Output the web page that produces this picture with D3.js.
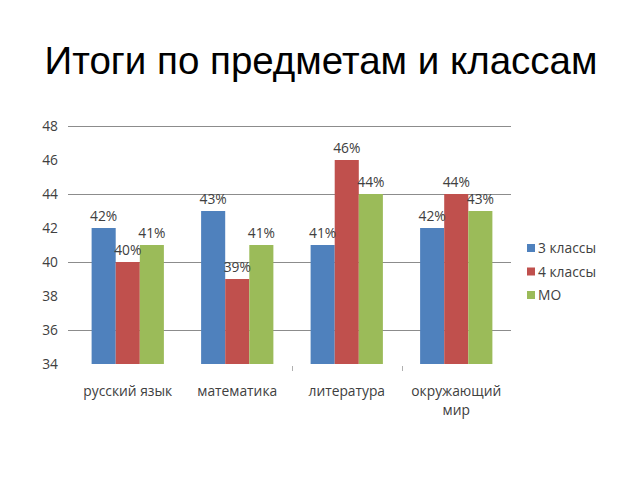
<!DOCTYPE html>
<html>
<head>
<meta charset="utf-8">
<script src="https://cdn.jsdelivr.net/npm/d3@7"></script>
<style>
  html, body { margin: 0; padding: 0; background: #fff; }
  svg { display: block; }
</style>
</head>
<body>
<svg id="chart" width="640" height="480"></svg>
<script>
const categories = ["русский язык", "математика", "литература", "окружающий мир"];
const seriesNames = ["3 классы", "4 классы", "МО"];
const values3 = [42, 43, 41, 42];
const values4 = [40, 39, 46, 44];
const valuesMO = [41, 41, 44, 43];
const yTicks = [34, 36, 38, 40, 42, 44, 46, 48];
const gridTicks = [36, 40, 44, 48];
const colors = ["#4F81BD", "#C0504D", "#9BBB59"];
const titleText = "Итоги по предметам и классам";

const allSeries = [values3, values4, valuesMO];
const svg = d3.select("#chart");
const font = "'Open Sans', 'Noto Sans', sans-serif";
const fs = 13.8;

const x0 = d3.scaleBand().domain(categories).range([73, 511]).paddingInner(0.34).paddingOuter(0.17);
const x1 = d3.scaleBand().domain(seriesNames).range([0, x0.bandwidth()]);
const y = d3.scaleLinear().domain([34, 48]).range([364, 126]);
const xb = d3.scaleBand().domain(categories).range([73, 511]);

// title
svg.append("text")
  .attr("x", 321).attr("y", 74)
  .attr("text-anchor", "middle")
  .attr("font-family", "'Liberation Sans', Arial, sans-serif")
  .attr("font-size", 38.5)
  .attr("fill", "#000")
  .text(titleText);

// gridlines
svg.append("g").selectAll("line").data(gridTicks).join("line")
  .attr("x1", 68).attr("x2", 511)
  .attr("y1", d => Math.round(y(d)) + 0.5).attr("y2", d => Math.round(y(d)) + 0.5)
  .attr("stroke", "#8c8c8c").attr("stroke-width", 1);

// y axis labels
const yAxis = d3.axisLeft(y).tickValues(yTicks).tickSize(0).tickPadding(0);
const gy = svg.append("g").attr("transform", "translate(58,0)").call(yAxis);
gy.select(".domain").remove();
gy.selectAll("text").attr("font-family", font).attr("font-size", fs).attr("fill", "#404040");

// category boundary ticks
svg.append("g").selectAll("line").data(categories.slice(2)).join("line")
  .attr("x1", d => Math.round(xb(d)) + 0.5).attr("x2", d => Math.round(xb(d)) + 0.5)
  .attr("y1", 366).attr("y2", 371)
  .attr("stroke", "#b0b0b0");

// bars
const groups = svg.append("g").selectAll("g").data(categories).join("g")
  .attr("transform", d => `translate(${x0(d)},0)`);
seriesNames.forEach((s, si) => {
  groups.append("rect")
    .attr("x", x1(s))
    .attr("width", x1.bandwidth())
    .attr("y", (d, i) => y(allSeries[si][i]))
    .attr("height", (d, i) => y(34) - y(allSeries[si][i]))
    .attr("fill", colors[si]);
});
// data labels
seriesNames.forEach((s, si) => {
  groups.append("text")
    .attr("x", x1(s) + x1.bandwidth() / 2)
    .attr("y", (d, i) => y(allSeries[si][i]) - 7)
    .attr("text-anchor", "middle")
    .attr("font-family", font).attr("font-size", fs).attr("fill", "#404040")
    .text((d, i) => allSeries[si][i] + "%");
});

// x labels
const xl = svg.append("g").selectAll("text").data(categories).join("text")
  .attr("x", d => x0(d) + x0.bandwidth() / 2)
  .attr("y", 396)
  .attr("text-anchor", "middle")
  .attr("font-family", font).attr("font-size", fs).attr("fill", "#404040");
xl.each(function(d) {
  const t = d3.select(this);
  const parts = d === "окружающий мир" ? ["окружающий", "мир"] : [d];
  parts.forEach((p, i) => t.append("tspan").attr("x", x0(d) + x0.bandwidth() / 2).attr("dy", i ? 19 : 0).text(p));
});

// legend
const lg = svg.append("g").selectAll("g").data(seriesNames).join("g")
  .attr("transform", (d, i) => `translate(527,${248 + i * 23.5})`);
lg.append("rect").attr("x", 0).attr("y", -4).attr("width", 8).attr("height", 8).attr("fill", (d, i) => colors[i]);
lg.append("text").attr("x", 11).attr("y", 5)
  .attr("font-family", font).attr("font-size", fs).attr("fill", "#404040")
  .text(d => d);
</script>
</body>
</html>
